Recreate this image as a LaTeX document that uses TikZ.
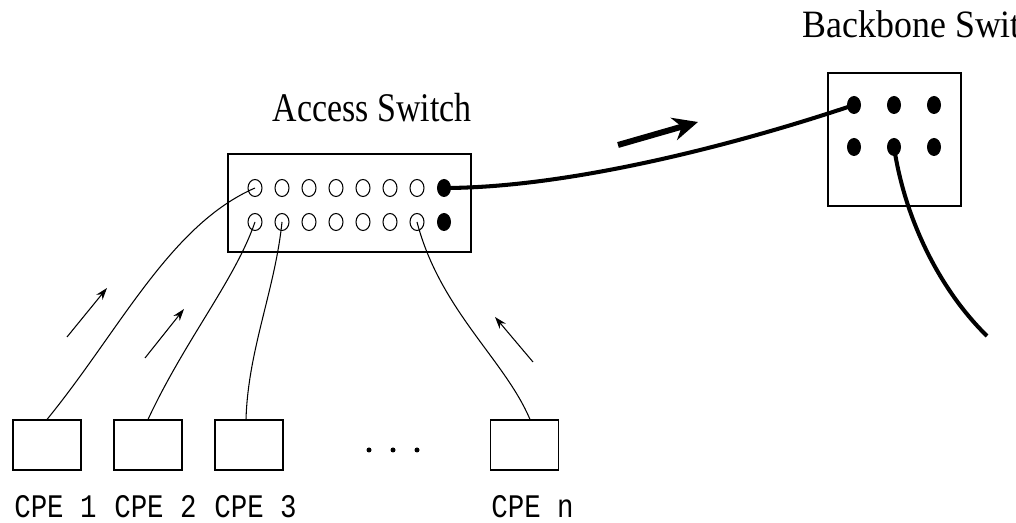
\documentclass[tikz,border=0pt]{standalone}
\usepackage{graphicx}
\usepackage{fontspec}
\setmainfont{Liberation Serif}
\setmonofont{Liberation Mono}
\usetikzlibrary{shapes.geometric}
\usetikzlibrary{arrows.meta}

\begin{document}
\begin{tikzpicture}[
  box/.style={draw, line width=0.6pt, inner sep=0pt},
  port/.style={ellipse, draw, line width=0.6pt, minimum width=0.28cm, minimum height=0.34cm, inner sep=0pt},
  jack/.style={ellipse, fill, minimum width=0.28cm, minimum height=0.36cm, inner sep=0pt},
  dot/.style={circle, fill, minimum size=0.1cm, inner sep=0pt},
  title/.style={anchor=base west, inner sep=0pt, font=\fontsize{19.3}{23}\selectfont},
  cpelabel/.style={anchor=base west, inner sep=0pt, font=\ttfamily\fontsize{15.6}{18}\selectfont},
  wire/.style={line width=0.6pt},
  trunk/.style={line width=2.3pt},
  flow/.style={line width=0.6pt, -{Stealth[length=0.24cm,width=0.16cm]}}
]
\useasboundingbox (0,0) rectangle (20.32,10.46);
% access switch
\node[box, minimum width=4.86cm, minimum height=1.96cm] (AS) at (6.99,6.40) {};
\node[title] (ASlabel) at (5.45,8.02) {\scalebox{1}[1.2]{Access Switch}};
\node[port] (a1) at (5.10,6.70) {};  % upper row of ports
\node[port] (a2) at (5.64,6.70) {};
\node[port] (a3) at (6.18,6.70) {};
\node[port] (a4) at (6.72,6.70) {};
\node[port] (a5) at (7.26,6.70) {};
\node[port] (a6) at (7.80,6.70) {};
\node[port] (a7) at (8.34,6.70) {};
\node[jack] (a8) at (8.88,6.70) {};
\node[port] (b1) at (5.10,6.02) {};  % lower row of ports
\node[port] (b2) at (5.64,6.02) {};
\node[port] (b3) at (6.18,6.02) {};
\node[port] (b4) at (6.72,6.02) {};
\node[port] (b5) at (7.26,6.02) {};
\node[port] (b6) at (7.80,6.02) {};
\node[port] (b7) at (8.34,6.02) {};
\node[jack] (b8) at (8.88,6.02) {};
% backbone switch
\node[box, minimum width=2.66cm, minimum height=2.66cm] (BS) at (17.89,7.67) {};
\node[title, font=\fontsize{20.4}{24}\selectfont] (BSlabel) at (16.05,9.70) {\scalebox{1}[1.08]{Backbone Switch}};
\node[jack] (bb1) at (17.08,8.36) {};
\node[jack] (bb2) at (17.88,8.36) {};
\node[jack] (bb3) at (18.68,8.36) {};
\node[jack] (bb4) at (17.08,7.52) {};
\node[jack] (bb5) at (17.88,7.52) {};
\node[jack] (bb6) at (18.68,7.52) {};
\coordinate (BSout) at (19.74,3.74);
% customer boxes
\node[box, minimum width=1.36cm, minimum height=1.00cm] (cpe1) at (0.94,1.56) {};
\node[box, minimum width=1.36cm, minimum height=1.00cm] (cpe2) at (2.96,1.56) {};
\node[box, minimum width=1.36cm, minimum height=1.00cm] (cpe3) at (4.98,1.56) {};
\node[box, minimum width=1.36cm, minimum height=1.00cm] (cpen) at (10.49,1.56) {};
\node[cpelabel] (l1) at (0.28,0.10) {\scalebox{1}[1.2]{CPE 1}};
\node[cpelabel] (l2) at (2.28,0.10) {\scalebox{1}[1.2]{CPE 2}};
\node[cpelabel] (l3) at (4.28,0.10) {\scalebox{1}[1.2]{CPE 3}};
\node[cpelabel] (ln) at (9.82,0.10) {\scalebox{1}[1.2]{CPE n}};
\node[dot] (d1) at (7.38,1.46) {};  % dots between CPE 3 and CPE n
\node[dot] (d2) at (7.86,1.46) {};
\node[dot] (d3) at (8.34,1.46) {};
% wires up to the access switch
\draw[wire] (cpe1.north) .. controls (2.40,3.86) and (3.40,5.96) .. (a1.center);
\draw[wire] (cpe2.north) .. controls (3.70,3.66) and (4.70,4.86) .. (b1.center);
\draw[wire] ([xshift=-0.06cm]cpe3.north) .. controls (4.96,3.46) and (5.50,4.66) .. (b2.center);
\draw[wire] ([xshift=0.11cm]cpen.north) .. controls (10.10,3.26) and (8.80,4.26) .. (b7.center);
\draw[flow] (1.34,3.72) -- (2.14,4.70);  % traffic direction
\draw[flow] (2.90,3.30) -- (3.68,4.28);
\draw[flow] (10.66,3.22) -- (9.90,4.12);
% uplink and backbone
\draw[trunk] (a8.center) .. controls (11.20,6.70) and (14.40,7.46) .. (bb1.center);
\draw[trunk] (bb5.center) .. controls (18.10,6.06) and (18.80,4.66) .. (BSout);
\draw[line width=3.4pt, -{Stealth[length=0.5cm,width=0.46cm]}] (12.36,7.56) -- (13.96,8.02);
\end{tikzpicture}
\end{document}
